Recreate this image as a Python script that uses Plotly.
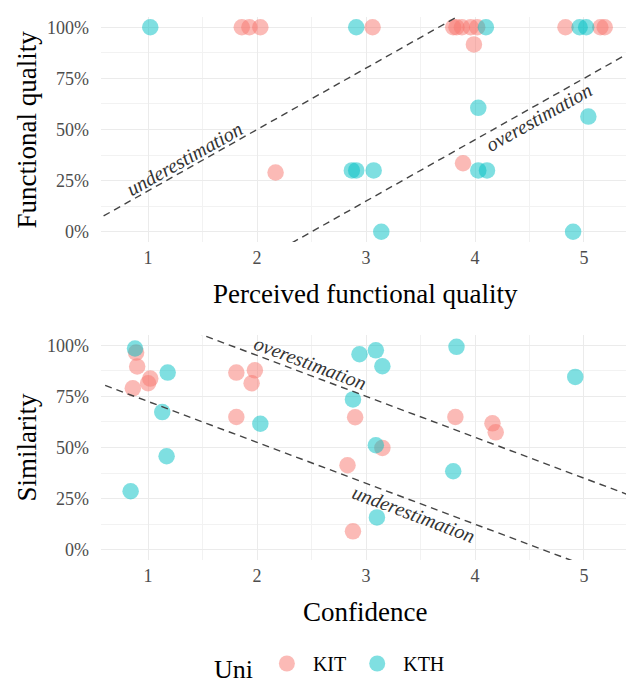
import plotly.graph_objects as go

# ---- data ----
uni_names = ["KIT", "KTH"]
uni_colors = ["#F8766D", "#00BFC4"]

fq_kit_perceived = [1.86, 1.93, 2.03, 2.17, 3.06, 3.80, 3.83, 3.88, 3.96, 4.02, 3.99, 3.89, 4.83, 5.15, 5.19]
fq_kit_actual = [1.0, 1.0, 1.0, 0.29, 1.0, 1.0, 1.0, 1.0, 1.0, 1.0, 0.916, 0.335, 1.0, 1.0, 1.0]
fq_kth_perceived = [1.02, 2.91, 2.87, 2.91, 3.07, 3.14, 4.10, 4.03, 5.04, 4.03, 4.11, 4.90, 4.96, 5.02]
fq_kth_actual = [1.0, 1.0, 0.30, 0.30, 0.30, 0.0, 1.0, 0.606, 0.563, 0.30, 0.30, 0.0, 1.0, 1.0]

sim_kit_conf = [0.89, 0.90, 1.02, 1.00, 0.86, 1.81, 1.98, 1.95, 1.81, 2.83, 2.88, 2.90, 3.82, 4.16, 4.19, 3.15]
sim_kit_val = [0.964, 0.896, 0.837, 0.814, 0.789, 0.866, 0.877, 0.814, 0.649, 0.413, 0.09, 0.648, 0.649, 0.618, 0.574, 0.498]
sim_kth_conf = [0.88, 1.18, 1.13, 1.17, 0.84, 2.03, 2.94, 2.88, 3.09, 3.15, 3.83, 4.92, 3.09, 3.80, 3.10]
sim_kth_val = [0.984, 0.866, 0.673, 0.457, 0.286, 0.616, 0.956, 0.735, 0.975, 0.897, 0.992, 0.845, 0.511, 0.384, 0.158]

# reference lines: (slope, intercept)
fq_lines = [(0.3, -0.10), (0.3, -0.75)]
sim_lines = [(-0.2, 1.35), (-0.2, 0.925)]
line_x = [0.4, 5.6]

x_ticks = [1, 2, 3, 4, 5]
y_ticks = [0, 0.25, 0.5, 0.75, 1.0]
y_tick_labels = ["0%", "25%", "50%", "75%", "100%"]

FONT = "Liberation Serif, serif"
fig = go.Figure()

def pts(x, y, name, color, xa, ya, show):
    fig.add_trace(go.Scatter(
        x=x, y=y, mode="markers", name=name, legendgroup=name, showlegend=show,
        marker=dict(size=16.5, color=color, opacity=0.5, line=dict(width=0)),
        xaxis=xa, yaxis=ya))

pts(fq_kit_perceived, fq_kit_actual, uni_names[0], uni_colors[0], "x", "y", True)
pts(fq_kth_perceived, fq_kth_actual, uni_names[1], uni_colors[1], "x", "y", True)
pts(sim_kit_conf, sim_kit_val, uni_names[0], uni_colors[0], "x2", "y2", False)
pts(sim_kth_conf, sim_kth_val, uni_names[1], uni_colors[1], "x2", "y2", False)

dash_line = dict(color="#444444", width=1.4, dash="7px,5px")
for (m, b) in fq_lines:
    fig.add_trace(go.Scatter(x=line_x, y=[m * v + b for v in line_x], mode="lines",
                             line=dash_line, showlegend=False, hoverinfo="skip",
                             xaxis="x", yaxis="y"))
for (m, b) in sim_lines:
    fig.add_trace(go.Scatter(x=line_x, y=[m * v + b for v in line_x], mode="lines",
                             line=dash_line, showlegend=False, hoverinfo="skip",
                             xaxis="x2", yaxis="y2"))

xr = [0.568, 5.413]
yr = [-0.05, 1.05]
grid = dict(showgrid=True, gridcolor="#EBEBEB", gridwidth=1.3, zeroline=False,
            showline=False, ticks="",
            tickfont=dict(family=FONT, size=18, color="#4D4D4D"),
            minor=dict(showgrid=True, gridcolor="#F2F2F2", gridwidth=0.9))

fig.update_layout(
    width=634, height=683,
    margin=dict(l=93, r=13, t=9, b=131),
    paper_bgcolor="white", plot_bgcolor="white",
    font=dict(family=FONT, color="black"),
    xaxis=dict(domain=[0, 1], range=xr, anchor="y", tickvals=x_ticks,
               ticklabelstandoff=3, **grid),
    yaxis=dict(domain=[0.5856, 1], range=yr, anchor="x", tickvals=y_ticks,
               ticktext=y_tick_labels, ticklabelstandoff=11, **grid),
    xaxis2=dict(domain=[0, 1], range=xr, anchor="y2", tickvals=x_ticks,
                ticklabelstandoff=3, **grid),
    yaxis2=dict(domain=[0, 0.4144], range=yr, anchor="x2", tickvals=y_ticks,
                ticktext=y_tick_labels, ticklabelstandoff=11, **grid),
    legend=dict(orientation="h", x=0.21, xanchor="left",
                yref="container", y=0.0366, yanchor="middle",
                title=dict(text="Uni", font=dict(family=FONT, size=26)),
                font=dict(family=FONT, size=20), itemsizing="trace", itemwidth=42),
)
fig.update_xaxes(minor=dict(tickvals=[1.5, 2.5, 3.5, 4.5]))
fig.update_yaxes(minor=dict(tickvals=[0.125, 0.375, 0.625, 0.875]))

ann_font = dict(family=FONT, size=20, color="#333333")
fig.add_annotation(x=1.33, y=0.355, xref="x", yref="y", text="<i>underestimation</i>",
                   textangle=-29.4, showarrow=False, font=ann_font)
fig.add_annotation(x=4.59, y=0.559, xref="x", yref="y", text="<i>overestimation</i>",
                   textangle=-29.4, showarrow=False, font=ann_font)
fig.add_annotation(x=2.49, y=0.911, xref="x2", yref="y2", text="<i>overestimation</i>",
                   textangle=20.6, showarrow=False, font=ann_font)
fig.add_annotation(x=3.44, y=0.175, xref="x2", yref="y2", text="<i>underestimation</i>",
                   textangle=20.6, showarrow=False, font=ann_font)

title_font = dict(family=FONT, size=27, color="black")
fig.add_annotation(x=0.5, y=0, xref="x domain", yref="y domain", yshift=-52,
                   text="Perceived functional quality", showarrow=False,
                   xanchor="center", yanchor="middle", font=title_font)
fig.add_annotation(x=0.5, y=0, xref="x2 domain", yref="y2 domain", yshift=-52,
                   text="Confidence", showarrow=False,
                   xanchor="center", yanchor="middle", font=title_font)
fig.add_annotation(x=0, y=0.5, xref="x domain", yref="y domain", xshift=-74,
                   text="Functional quality", showarrow=False, textangle=-90,
                   xanchor="center", yanchor="middle", font=title_font)
fig.add_annotation(x=0, y=0.5, xref="x2 domain", yref="y2 domain", xshift=-74,
                   text="Similarity", showarrow=False, textangle=-90,
                   xanchor="center", yanchor="middle", font=title_font)

fig.write_html("out.html")
